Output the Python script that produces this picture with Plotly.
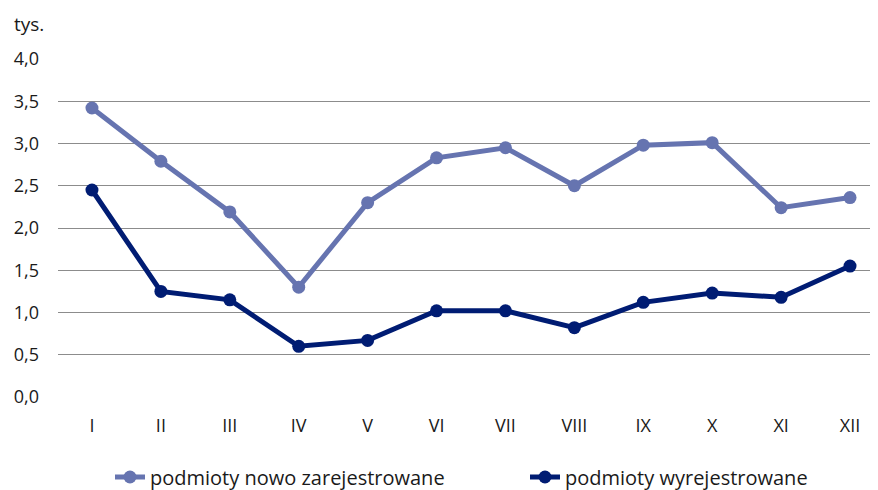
import plotly.graph_objects as go

months = ["I", "II", "III", "IV", "V", "VI", "VII", "VIII", "IX", "X", "XI", "XII"]
nowo = [3.42, 2.79, 2.19, 1.30, 2.30, 2.83, 2.95, 2.50, 2.98, 3.01, 2.24, 2.36]
wyrej = [2.45, 1.25, 1.15, 0.60, 0.67, 1.02, 1.02, 0.82, 1.12, 1.23, 1.18, 1.55]
yticks = [0, 0.5, 1, 1.5, 2, 2.5, 3, 3.5, 4]
yticklabels = ["0,0", "0,5", "1,0", "1,5", "2,0", "2,5", "3,0", "3,5", "4,0"]

light = "#6674b0"
dark = "#001c73"
font = "Open Sans, Roboto, sans-serif"

fig = go.Figure()
fig.add_trace(go.Scatter(x=list(range(12)), y=nowo, mode="lines+markers",
                         name="podmioty nowo zarejestrowane", legend="legend",
                         line=dict(color=light, width=5),
                         marker=dict(color=light, size=13)))
fig.add_trace(go.Scatter(x=list(range(12)), y=wyrej, mode="lines+markers",
                         name="podmioty wyrejestrowane", legend="legend2",
                         line=dict(color=dark, width=5),
                         marker=dict(color=dark, size=13)))

leg_common = dict(orientation="h", xref="container", yref="container",
                  xanchor="left", y=13/482, yanchor="middle",
                  font=dict(size=20), bgcolor="rgba(0,0,0,0)")

fig.update_layout(
    width=870, height=482,
    margin=dict(l=50, r=0, t=51, b=93, autoexpand=False),
    paper_bgcolor="white", plot_bgcolor="white",
    font=dict(family=font, size=18, color="#1a1a1a"),
    showlegend=True,
    legend=dict(x=102/870, **leg_common),
    legend2=dict(x=517/870, **leg_common),
    xaxis=dict(range=[-0.493, 11.406], tickmode="array",
               tickvals=list(range(12)), ticktext=months,
               showgrid=False, zeroline=False, showline=False,
               ticks="", ticklabelstandoff=16, tickfont=dict(size=18)),
    yaxis=dict(range=[0, 4], tickmode="array", tickvals=yticks, ticktext=yticklabels,
               showgrid=True, gridcolor="#8c8c8c", gridwidth=1,
               zeroline=False, showline=False, ticks="",
               ticklabelstandoff=18, tickfont=dict(size=18)),
    annotations=[dict(text="tys.", xref="paper", yref="paper", x=-50/820, y=1 + 35/338,
                      xanchor="left", yanchor="middle", showarrow=False,
                      font=dict(size=19), xshift=4)],
)

fig.write_html("out.html")
